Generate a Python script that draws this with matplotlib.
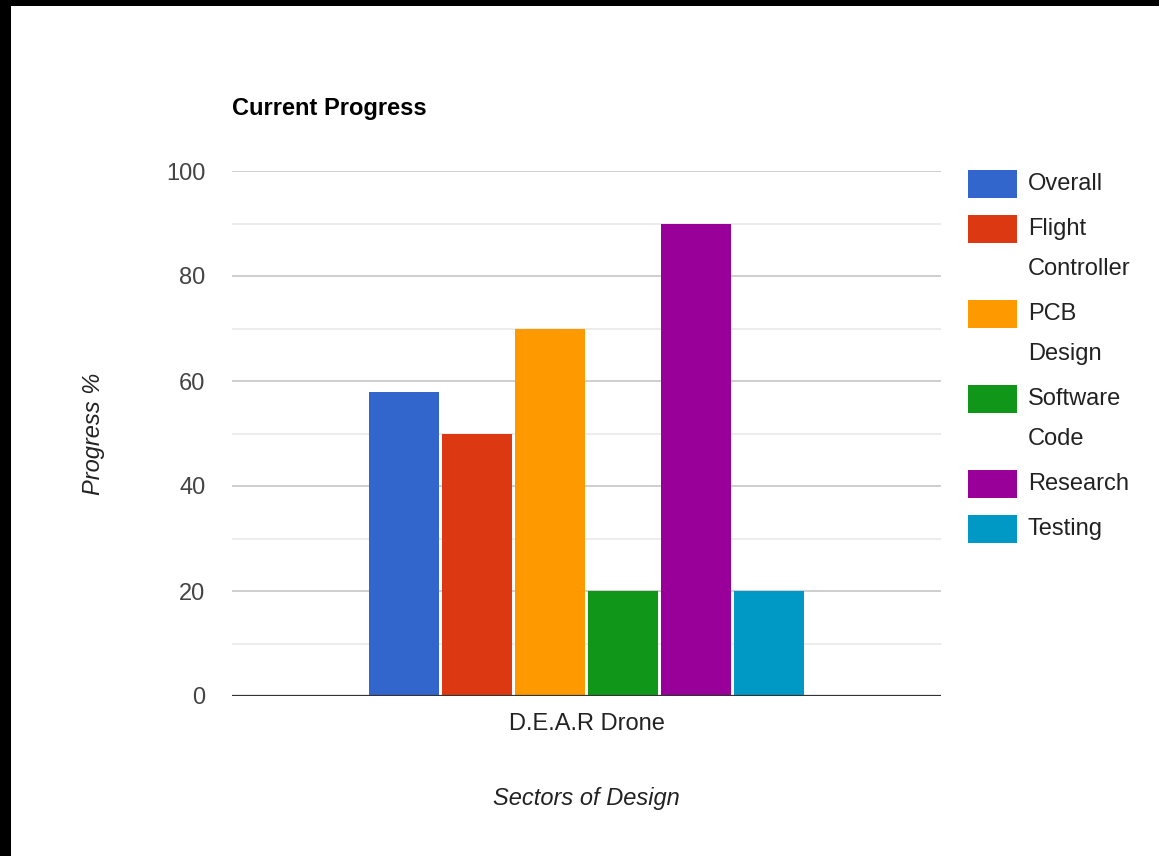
import matplotlib
matplotlib.use("Agg")
import matplotlib.pyplot as plt
from matplotlib.patches import Rectangle

plt.rcParams['font.family'] = ['Liberation Sans', 'DejaVu Sans']

category = "D.E.A.R Drone"
series_labels = ["Overall", "Flight\nController", "PCB\nDesign", "Software\nCode", "Research", "Testing"]
series_values = [58, 50, 70, 20, 90, 20]
series_colors = ["#3366cc", "#dc3912", "#ff9900", "#109618", "#990099", "#0099c6"]
y_ticks = [0, 20, 40, 60, 80, 100]
y_minor = [10, 30, 50, 70, 90]

W, H = 1159, 856
fig = plt.figure(figsize=(W / 100, H / 100), dpi=100)
fig.patch.set_facecolor("white")

ax = fig.add_axes([232 / W, 1 - 696 / H, (941 - 232) / W, (696 - 171) / H])
ax.set_xlim(-0.5, 0.5)
ax.set_ylim(0, 100)

slot = 0.103
bw = 0.099
n = len(series_values)
for i, (v, c) in enumerate(zip(series_values, series_colors)):
    ax.bar((i - (n - 1) / 2) * slot, v, width=bw, color=c, zorder=3)

for t in y_ticks[1:]:
    ax.axhline(t, color="#cccccc", lw=1.3, zorder=1)
for t in y_minor:
    ax.axhline(t, color="#ebebeb", lw=1.3, zorder=1)
ax.axhline(0, color="#333333", lw=1.6, zorder=4)

for s in ax.spines.values():
    s.set_visible(False)

ax.set_yticks(y_ticks)
ax.set_yticklabels([str(t) for t in y_ticks])
ax.set_xticks([0])
ax.set_xticklabels([category])
ax.tick_params(axis="y", length=0, pad=19, labelsize=17, labelcolor="#444444")
ax.tick_params(axis="x", length=0, pad=12, labelsize=17, labelcolor="#222222")

ax.set_xlabel("Sectors of Design", fontsize=17, style="italic", color="#222222", labelpad=38)
ax.set_ylabel("Progress %", fontsize=17, style="italic", color="#222222", labelpad=44)

fig.text(232 / W, 1 - 109 / H, "Current Progress", fontsize=17, fontweight="bold",
         color="#000000", ha="left", va="center")

# legend drawn manually
y_top = 170
for lab, c in zip(series_labels, series_colors):
    fig.patches.append(Rectangle((968 / W, 1 - (y_top + 28) / H), 49 / W, 28 / H,
                                 transform=fig.transFigure, facecolor=c, edgecolor="none"))
    lines = lab.split("\n")
    for k, ln in enumerate(lines):
        fig.text(1028 / W, 1 - (y_top + 14 + 40 * k) / H, ln, fontsize=17,
                 color="#222222", ha="left", va="center")
    y_top += 45 + 40 * (len(lines) - 1)

# black frame edges (top, left)
fig.patches.append(Rectangle((0, 1 - 6 / H), 1, 6 / H, transform=fig.transFigure,
                             facecolor="black", edgecolor="none"))
fig.patches.append(Rectangle((0, 0), 11 / W, 1, transform=fig.transFigure,
                             facecolor="black", edgecolor="none"))

fig.savefig("out.png", dpi=100)
